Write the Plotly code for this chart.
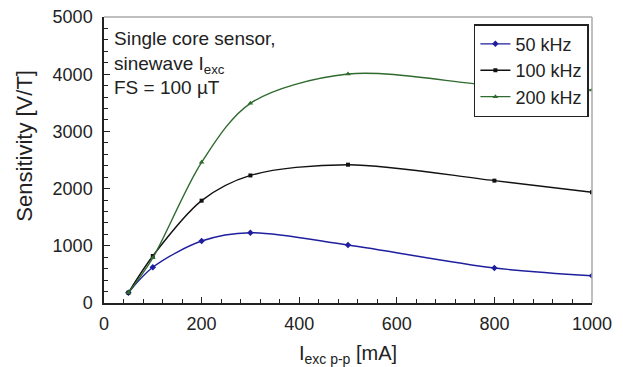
import plotly.graph_objects as go

iexc = [50, 100, 200, 300, 500, 800, 1000]
s50 = [180, 624, 1084, 1229, 1014, 612, 477]
s100 = [180, 822, 1789, 2230, 2418, 2139, 1935]
s200 = [180, 790, 2460, 3491, 4003, 3800, 3724]

series = [
    ("50 kHz", s50, "#1f1f9e", "diamond", 5),
    ("100 kHz", s100, "#111111", "square", 4),
    ("200 kHz", s200, "#2f6a2f", "triangle-up", 5),
]

fig = go.Figure()
for name, ys, col, sym, sz in series:
    fig.add_trace(go.Scatter(
        x=iexc, y=ys, name=name, mode="lines+markers",
        line=dict(color=col, width=1.4, shape="spline", smoothing=0.9),
        marker=dict(symbol=sym, size=sz, color=col),
    ))

font = "Liberation Sans, Arial, sans-serif"
fig.update_layout(
    width=615, height=359,
    margin=dict(l=96, r=31, t=9, b=64, autoexpand=False),
    paper_bgcolor="white", plot_bgcolor="white",
    font=dict(family=font, size=18, color="#222222"),
    showlegend=True,
    legend=dict(x=0.758, y=0.975, xanchor="left", yanchor="top",
                bgcolor="white", bordercolor="#222222", borderwidth=1.5,
                font=dict(size=18), itemwidth=30, tracegroupgap=0),
    xaxis=dict(range=[0, 1000], tickvals=[0, 200, 400, 600, 800, 1000],
               ticks="inside", ticklen=6, tickcolor="#222222",
               showline=True, linecolor="#222222", linewidth=1.5,
               showgrid=False, zeroline=False, ticklabelstandoff=4,
               ticklabeloverflow="allow", automargin=False,
               minor=dict(dtick=40, ticks="inside", ticklen=4, tickcolor="#222222"),
               title=dict(text="I<sub>exc p-p</sub> [mA]", font=dict(size=20), standoff=19)),
    yaxis=dict(range=[0, 5000], tickvals=[0, 1000, 2000, 3000, 4000, 5000],
               ticks="inside", ticklen=6, tickcolor="#222222",
               showline=True, linecolor="#222222", linewidth=1.5,
               showgrid=False, zeroline=False, ticklabelstandoff=6,
               ticklabeloverflow="allow", automargin=False,
               minor=dict(dtick=200, ticks="inside", ticklen=4, tickcolor="#222222")),
    shapes=[
        dict(type="line", xref="paper", yref="paper", x0=0, x1=1, y0=1, y1=1,
             line=dict(color="#aaaaaa", width=1.5)),
        dict(type="line", xref="paper", yref="paper", x0=1, x1=1, y0=0, y1=1,
             line=dict(color="#aaaaaa", width=1.5)),
    ],
    annotations=[
        dict(xref="paper", yref="paper", x=0.016, y=0.969, xanchor="left", yanchor="top",
             align="left", showarrow=False, font=dict(size=19, color="#222222"),
             text="Single core sensor,<br>sinewave I<sub>exc</sub><br>FS = 100 \u00b5T"),
        dict(xref="paper", yref="paper", x=-0.162, y=0.55, xanchor="center", yanchor="middle",
             textangle=-90, showarrow=False, font=dict(size=22, color="#222222"),
             text="Sensitivity [V/T]"),
    ],
)

fig.write_html("out.html")
